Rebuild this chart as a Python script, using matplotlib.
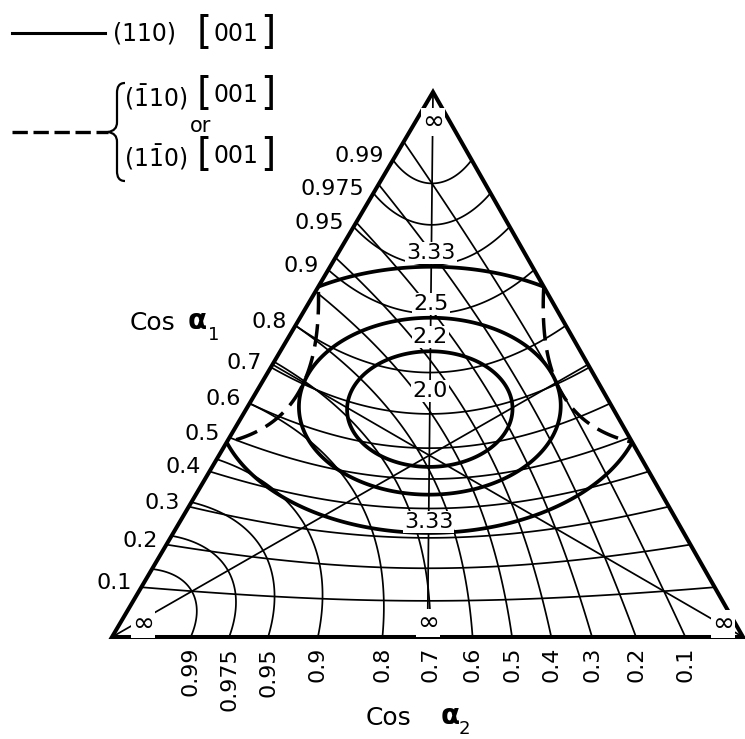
import numpy as np
import matplotlib
matplotlib.use("Agg")
import matplotlib.pyplot as plt
from matplotlib.patches import Polygon, PathPatch
from matplotlib.path import Path

plt.rcParams['font.family'] = ['DejaVu Sans']
plt.rcParams['mathtext.fontset'] = 'dejavusans'

# ---------------- data ----------------
cos_a1_levels = [0.1, 0.2, 0.3, 0.4, 0.5, 0.6, 0.7, 0.8, 0.9, 0.95, 0.975, 0.99]
cos_a1_labels = ["0.1", "0.2", "0.3", "0.4", "0.5", "0.6", "0.7", "0.8", "0.9", "0.95", "0.975", "0.99"]
cos_a2_levels = [0.1, 0.2, 0.3, 0.4, 0.5, 0.6, 0.7, 0.8, 0.9, 0.95, 0.975, 0.99]
cos_a2_labels = ["0.1", "0.2", "0.3", "0.4", "0.5", "0.6", "0.7", "0.8", "0.9", "0.95", "0.975", "0.99"]
solid_levels = [2.2, 2.5, 3.33]      # 1/(cos a1 cos a2) for (110)[001]
dashed_levels = [3.33]               # same quantity for (-110)[001] / (1-10)[001]
min_value = 2.0
legend_solid = r"(110)"
legend_dash_a = r"$(\bar{1}10)$"
legend_dash_b = r"$(1\bar{1}0)$"
legend_dir = "001"

# ---------------- projection (gnomonic, octant -> triangle) ----------------
T = np.array([433.0, 92.0])    # cos a1 = 1
L = np.array([112.0, 637.0])   # cos a2 = 1
R = np.array([743.0, 637.0])


def proj(x1, x2, x3):
    s = x1 + x2 + x3
    return ((x1 * T[0] + x2 * L[0] + x3 * R[0]) / s,
            (x1 * T[1] + x2 * L[1] + x3 * R[1]) / s)


fig = plt.figure(figsize=(7.45, 7.39), dpi=100)
ax = fig.add_axes([0, 0, 1, 1])
ax.set_xlim(0, 745)
ax.set_ylim(739, 0)
ax.axis('off')

gx = np.linspace(90, 765, 1700)
gy = np.linspace(70, 660, 1500)
X, Y = np.meshgrid(gx, gy)
Mx = np.array([[T[0], L[0], R[0]], [T[1], L[1], R[1]], [1.0, 1.0, 1.0]])
Minv = np.linalg.inv(Mx)
W = np.einsum('ij,jkl->ikl', Minv, np.stack([X, Y, np.ones_like(X)]))
w1, w2, w3 = W
nrm = np.sqrt(w1 ** 2 + w2 ** 2 + w3 ** 2)
c1, c2, c3 = w1 / nrm, w2 / nrm, w3 / nrm
m_solid = c1 * (c2 + c3) / np.sqrt(2)
m_dash = c1 * np.abs(c2 - c3) / np.sqrt(2)

tri = Polygon([T, L, R], closed=True, facecolor='none', edgecolor='black',
              lw=2.9, joinstyle='miter', zorder=4)
ax.add_patch(tri)

thin = 1.25
cs = ax.contour(X, Y, c1, levels=cos_a1_levels, colors='black', linewidths=thin, zorder=2)
cs.set_clip_path(tri)
cs = ax.contour(X, Y, c2, levels=cos_a2_levels, colors='black', linewidths=thin, zorder=2)
cs.set_clip_path(tri)

cs = ax.contour(X, Y, m_solid, levels=sorted(1.0 / v for v in solid_levels),
                colors='black', linewidths=2.7, zorder=3)
cs.set_clip_path(tri)
cs = ax.contour(X, Y, m_dash, levels=sorted(1.0 / v for v in dashed_levels),
                colors='black', linewidths=2.5, zorder=3)
cs.set_linestyle((0, (6.5, 2.8)))
cs.set_clip_path(tri)

# three symmetry lines (great circles)
s2 = 1 / np.sqrt(2)
for a, b in [((1, 0, 0), (0, s2, s2)), ((0, 1, 0), (s2, 0, s2)), ((0, 0, 1), (s2, s2, 0))]:
    pa, pb = proj(*a), proj(*b)
    ax.plot([pa[0], pb[0]], [pa[1], pb[1]], color='black', lw=thin, zorder=2)

box = dict(facecolor='white', edgecolor='none', pad=0.8)
fs = 16

# left-edge labels (cos a1)
for v, t in zip(cos_a1_levels, cos_a1_labels):
    px, py = proj(v, np.sqrt(1 - v * v), 0.0)
    ax.text(px - 9, py - 4, t, fontsize=fs, ha='right', va='center', zorder=6)

# bottom labels (cos a2)
for v, t in zip(cos_a2_levels, cos_a2_labels):
    px, py = proj(0.0, v, np.sqrt(1 - v * v))
    ax.text(px, 647, t, fontsize=fs, ha='center', va='top', rotation=90, zorder=6)


# contour value labels along the central line
def median_point(psi):
    return proj(np.cos(psi), np.sin(psi) * s2, np.sin(psi) * s2)


for v in solid_levels:
    psi = 0.5 * np.arcsin(2.0 / v)
    px, py = median_point(psi)
    ax.text(px, py - 14, f"{v:g}", fontsize=fs, ha='center', va='center', bbox=box, zorder=6)
v = solid_levels[-1]
psi = np.pi / 2 - 0.5 * np.arcsin(2.0 / v)
px, py = median_point(psi)
ax.text(px, py - 11, f"{v:g}", fontsize=fs, ha='center', va='center', bbox=box, zorder=6)
px, py = median_point(np.pi / 4)
ax.text(px, py - 20, f"{min_value:.1f}", fontsize=fs, ha='center', va='center', bbox=box, zorder=6)

# infinity marks
bx, by = median_point(np.radians(87.2))
for (x, y) in [(433, 122), (bx, 623), (143, 624), (723, 624)]:
    ax.text(x, y, "\u221e", fontsize=19, ha='center', va='center', bbox=box, zorder=6)

# axis titles
ax.text(130, 323, "Cos", fontsize=18, ha='left', va='center')
ax.text(188, 321, "\u03b1", fontsize=20, fontweight='bold', ha='left', va='center')
ax.text(208, 335, "1", fontsize=13, ha='left', va='center')
ax.text(366, 718, "Cos", fontsize=18, ha='left', va='center')
ax.text(441, 716, "\u03b1", fontsize=20, fontweight='bold', ha='left', va='center')
ax.text(459, 729, "2", fontsize=13, ha='left', va='center')

# legend
ax.plot([12, 105], [33, 33], color='black', lw=2.2)
ax.text(113, 33, legend_solid, fontsize=17, ha='left', va='center')
ax.plot([12, 108], [132, 132], color='black', lw=2.4, linestyle=(0, (4.6, 1.7)))
brace = Path([(125, 83), (119, 83), (117, 87), (117, 93), (117, 122), (117, 128), (114, 131),
              (108, 132), (114, 133), (117, 136), (117, 142), (117, 171), (117, 177),
              (119, 181), (125, 181)],
             [Path.MOVETO, Path.CURVE4, Path.CURVE4, Path.CURVE4, Path.LINETO,
              Path.CURVE4, Path.CURVE4, Path.CURVE4, Path.CURVE4, Path.CURVE4, Path.CURVE4,
              Path.LINETO, Path.CURVE4, Path.CURVE4, Path.CURVE4])
ax.add_patch(PathPatch(brace, facecolor='none', edgecolor='black', lw=1.6))
ax.text(124, 97, legend_dash_a, fontsize=17, ha='left', va='center')
ax.text(201, 126, "or", fontsize=15, ha='center', va='center')
ax.text(124, 157, legend_dash_b, fontsize=17, ha='left', va='center')
for yc in (33, 94, 155):
    ax.text(212, yc, "[", fontsize=28, ha='right', va='center')
    ax.text(236, yc + 1, legend_dir, fontsize=17, ha='center', va='center')
    ax.text(260, yc, "]", fontsize=28, ha='left', va='center')

fig.savefig("out.png", dpi=100, facecolor='white')
